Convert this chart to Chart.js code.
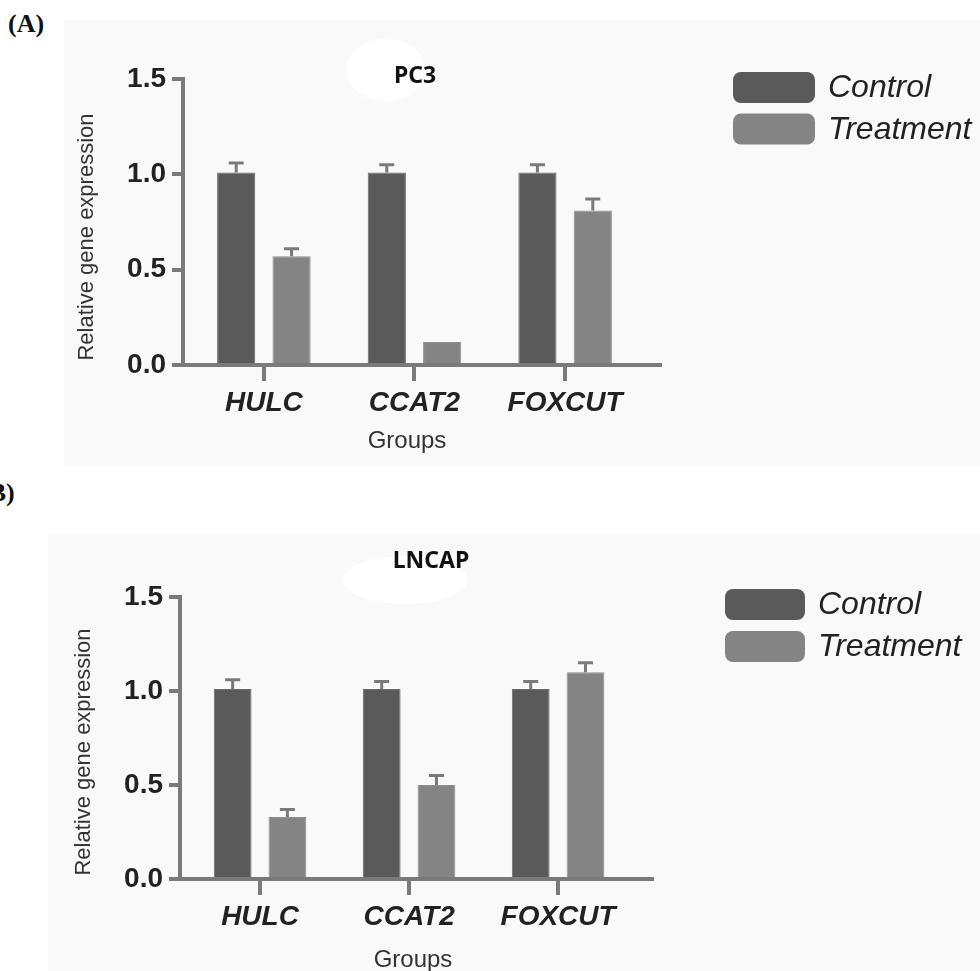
<!DOCTYPE html>
<html><head><meta charset="utf-8">
<script src="https://cdn.jsdelivr.net/npm/chart.js@4.4.1/dist/chart.umd.min.js"></script>
<style>
body{margin:0;background:#fff;width:980px;height:971px;position:relative;overflow:hidden}
canvas{position:absolute;left:0}
#ca{top:0} #cb{top:480px}
.pl{position:absolute;font:bold 26px "Liberation Serif","Times New Roman",serif;color:#111;line-height:1;white-space:nowrap}
</style></head><body>
<div class="pl" style="left:8px;top:11px">(A)</div>
<div class="pl" style="left:-20px;top:480px">(B)</div>
<canvas id="ca" width="980" height="480"></canvas>
<canvas id="cb" width="980" height="491"></canvas>
<script>
// ---- data ----
const categories = ['HULC', 'CCAT2', 'FOXCUT'];
const seriesNames = ['Control', 'Treatment'];
const yTickValues = [0, 0.5, 1.0, 1.5];
const pc3Control = [1.01, 1.01, 1.01];
const pc3ControlErr = [0.05, 0.04, 0.04];
const pc3Treatment = [0.57, 0.12, 0.81];
const pc3TreatmentErr = [0.04, 0, 0.06];
const lncapControl = [1.01, 1.01, 1.01];
const lncapControlErr = [0.05, 0.04, 0.04];
const lncapTreatment = [0.33, 0.50, 1.10];
const lncapTreatmentErr = [0.04, 0.05, 0.05];

const CONTROL_COLOR = '#5a5a5a';
const TREAT_COLOR = '#848484';
const AXIS_COLOR = '#7a7a7a';

const deco = {
  id: 'deco',
  beforeDraw(chart, args, o) {
    const ctx = chart.ctx;
    ctx.save();
    ctx.fillStyle = '#f9f9f9';
    ctx.fillRect(o.bg[0], o.bg[1], o.bg[2], o.bg[3]);
    ctx.fillStyle = '#ffffff';
    ctx.beginPath();
    ctx.ellipse(o.blob[0], o.blob[1], o.blob[2], o.blob[3], 0, 0, Math.PI * 2);
    ctx.fill();
    ctx.restore();
  },
  afterDatasetsDraw(chart) {
    const ctx = chart.ctx;
    const ys = chart.scales.y;
    ctx.save();
    ctx.strokeStyle = AXIS_COLOR;
    ctx.lineWidth = 3;
    chart.data.datasets.forEach((ds, di) => {
      const meta = chart.getDatasetMeta(di);
      meta.data.forEach((bar, j) => {
        const e = ds.errors[j];
        if (!e) return;
        const v = ds.data[j].y;
        const yTop = ys.getPixelForValue(v + e);
        ctx.beginPath();
        ctx.moveTo(bar.x, bar.y);
        ctx.lineTo(bar.x, yTop);
        ctx.moveTo(bar.x - 7.5, yTop);
        ctx.lineTo(bar.x + 7.5, yTop);
        ctx.stroke();
      });
    });
    ctx.restore();
  },
  afterDraw(chart, args, o) {
    const ctx = chart.ctx;
    ctx.save();
    ctx.fillStyle = '#111';
    ctx.textAlign = 'center';
    ctx.textBaseline = 'middle';
    ctx.font = 'bold 23px "Noto Sans", "Open Sans", sans-serif';
    ctx.fillText(o.title, o.titlePos[0], o.titlePos[1]);
    // axis titles
    ctx.fillStyle = '#333';
    ctx.font = '24px "Liberation Sans", Arial, sans-serif';
    ctx.fillText(o.xTitle, o.xTitlePos[0], o.xTitlePos[1]);
    ctx.save();
    ctx.translate(o.yTitlePos[0], o.yTitlePos[1]);
    ctx.rotate(-Math.PI / 2);
    ctx.font = '22px "Liberation Sans", Arial, sans-serif';
    ctx.fillText(o.yTitle, 0, 0);
    ctx.restore();
    // legend
    const [lx, ly, sw, sh, gap] = o.legend;
    chart.data.datasets.forEach((ds, i) => {
      const y = ly + i * gap;
      ctx.fillStyle = ds.backgroundColor;
      ctx.beginPath();
      if (ctx.roundRect) ctx.roundRect(lx, y, sw, sh, 8); else ctx.rect(lx, y, sw, sh);
      ctx.fill();
      ctx.fillStyle = '#222';
      ctx.textAlign = 'left';
      ctx.font = 'italic 32px "Liberation Sans", Arial, sans-serif';
      ctx.fillText(ds.label, lx + sw + 13, y + sh / 2 + 1);
    });
    ctx.restore();
  }
};

function makeChart(id, ctrl, ctrlErr, treat, treatErr, cfg) {
  const toXY = arr => categories.map((c, i) => ({ x: i, y: arr[i] }));
  return new Chart(document.getElementById(id), {
    type: 'bar',
    data: {
      datasets: [
        { label: seriesNames[0], data: toXY(ctrl), errors: ctrlErr, backgroundColor: CONTROL_COLOR, borderColor: '#6a6a6a', borderWidth: 1 },
        { label: seriesNames[1], data: toXY(treat), errors: treatErr, backgroundColor: TREAT_COLOR, borderColor: '#8e8e8e', borderWidth: 1 }
      ]
    },
    options: {
      responsive: false,
      animation: false,
      events: [],
      categoryPercentage: 0.735,
      barPercentage: 0.69,
      layout: { padding: { left: 0, top: cfg.top, right: cfg.right, bottom: 0 } },
      plugins: {
        legend: { display: false },
        tooltip: { enabled: false },
        deco: cfg.deco
      },
      scales: {
        x: {
          type: 'linear',
          offset: false,
          min: -0.537,
          max: 2.63,
          afterFit: s => { s.height = cfg.xHeight; },
          afterBuildTicks: s => { s.ticks = categories.map((c, i) => ({ value: i })); },
          grid: { offset: false, drawOnChartArea: false, drawTicks: true, tickLength: 16, tickWidth: 4, lineWidth: 4, tickColor: AXIS_COLOR, color: AXIS_COLOR },
          border: { display: true, width: 4, color: AXIS_COLOR },
          ticks: {
            autoSkip: false, maxRotation: 0, padding: 5, color: '#222',
            font: { family: '"Liberation Sans", Arial, sans-serif', size: 28, weight: 'bold', style: 'italic' },
            callback: v => categories[v] ?? ''
          }
        },
        y: {
          min: 0,
          max: 1.5,
          afterFit: s => { s.width = cfg.yWidth; },
          afterBuildTicks: s => { s.ticks = yTickValues.map(v => ({ value: v })); },
          grid: { drawOnChartArea: false, drawTicks: true, tickLength: 11, tickWidth: 4, lineWidth: 4, tickColor: AXIS_COLOR, color: AXIS_COLOR },
          border: { display: true, width: 4, color: AXIS_COLOR },
          ticks: {
            padding: 6, color: '#222',
            font: { family: '"Liberation Sans", Arial, sans-serif', size: 28, weight: 'bold' },
            callback: v => Number(v).toFixed(1)
          }
        }
      }
    },
    plugins: [deco]
  });
}

makeChart('ca', pc3Control, pc3ControlErr, pc3Treatment, pc3TreatmentErr, {
  top: 79, right: 320, xHeight: 115, yWidth: 183,
  deco: {
    bg: [64, 20, 916, 445], blob: [386, 70, 40, 31],
    title: 'PC3', titlePos: [415, 76],
    xTitle: 'Groups', xTitlePos: [407, 441],
    yTitle: 'Relative gene expression', yTitlePos: [87, 237],
    legend: [733, 72, 82, 31, 41.5]
  }
});
makeChart('cb', lncapControl, lncapControlErr, lncapTreatment, lncapTreatmentErr, {
  top: 117, right: 328, xHeight: 92, yWidth: 180,
  deco: {
    bg: [48, 53, 932, 438], blob: [405, 100, 62, 24],
    title: 'LNCAP', titlePos: [431, 81],
    xTitle: 'Groups', xTitlePos: [413, 480],
    yTitle: 'Relative gene expression', yTitlePos: [84, 272],
    legend: [725, 109, 80, 31, 42]
  }
});
</script>
</body></html>
